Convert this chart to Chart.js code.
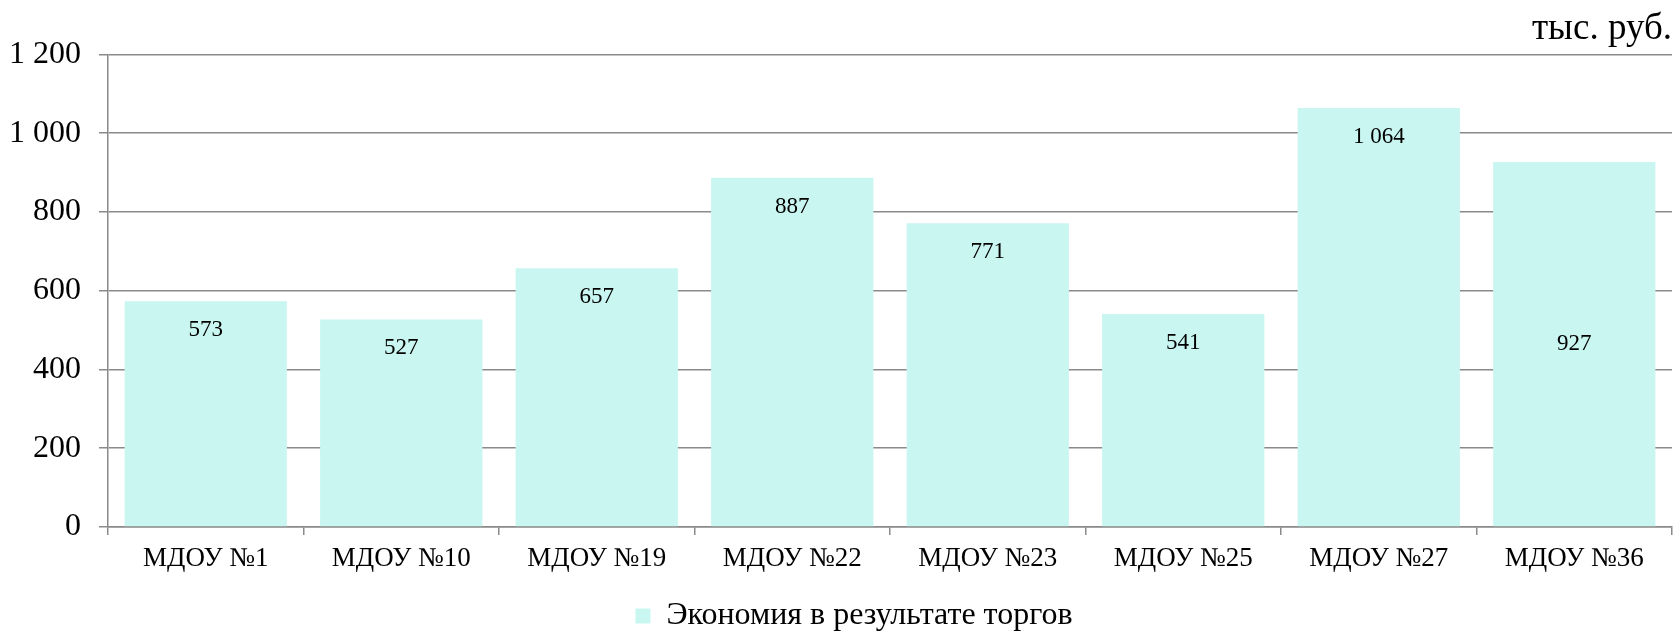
<!DOCTYPE html>
<html lang="ru">
<head>
<meta charset="utf-8">
<title>Экономия в результате торгов</title>
<script src="https://cdn.jsdelivr.net/npm/chart.js@4/dist/chart.umd.min.js"></script>
<style>
  html, body { margin: 0; padding: 0; background: #fff; }
  #wrap { width: 1673px; height: 635px; }
</style>
</head>
<body>
<div id="wrap"><canvas id="savingsChart"></canvas></div>
<script>
// учреждения и сумма экономии по каждому, тыс. руб.
const categories = ['МДОУ №1', 'МДОУ №10', 'МДОУ №19', 'МДОУ №22', 'МДОУ №23', 'МДОУ №25', 'МДОУ №27', 'МДОУ №36'];
const savings = [573, 527, 657, 887, 771, 541, 1064, 927];
const yTicks = [0, 200, 400, 600, 800, 1000, 1200];
// где ставить подпись на столбце: у верха или посередине
const labelAnchor = ['end', 'end', 'end', 'end', 'end', 'end', 'end', 'center'];

const FONT = '"Liberation Serif", "Times New Roman", serif';
const BAR_COLOR = '#c9f6f1';
const GRID_COLOR = '#8a8a8a';

// 1064 -> "1 064"
function fmt(v){
    return String(v).replace(/\B(?=(\d{3})+(?!\d))/g, ' ');
}

// подписи значений на столбцах
const barLabels = {
    id: 'barLabels',
    afterDatasetsDraw(chart){
        const ctx = chart.ctx;
        const meta = chart.getDatasetMeta(0);
        ctx.save();
        ctx.font = '23px ' + FONT;
        ctx.fillStyle = '#000';
        ctx.textAlign = 'center';
        ctx.textBaseline = 'middle';
        meta.data.forEach((bar, i) => {
            const y = labelAnchor[i] === 'center' ? (bar.y + bar.base) / 2 : bar.y + 29;
            ctx.fillText(fmt(savings[i]), bar.x, y);
        });
        ctx.restore();
    }
};

// легенду чуть правее центра холста
const legendShift = {
    id: 'legendShift',
    afterLayout(chart){
        if (chart.legend) {
            chart.legend.left += 18;
            chart.legend.right += 18;
        }
    }
};

const ctx = document.getElementById('savingsChart').getContext('2d');
new Chart(ctx, {
    type: 'bar',
    data: {
        labels: categories,
        datasets: [{
            label: 'Экономия в результате торгов',
            data: savings,
            backgroundColor: BAR_COLOR,
            borderWidth: 0,
            categoryPercentage: 1,
            barPercentage: 0.83
        }]
    },
    options: {
        responsive: true,
        maintainAspectRatio: false,
        animation: false,
        // легенда у самого нижнего края, поэтому снизу отрицательный отступ
        layout: { padding: { left: 0, right: 1, bottom: -7 } },
        scales: {
            x: {
                grid: { display: true, drawOnChartArea: false, drawTicks: true, tickLength: 8, color: GRID_COLOR, lineWidth: 1.5 },
                border: { display: true, color: GRID_COLOR, width: 1.5 },
                ticks: { color: '#000', font: { family: FONT, size: 27 }, padding: 8 },
                // место под подписями до легенды
                afterFit(scale){ scale.height = 68; }
            },
            y: {
                min: 0,
                max: 1200,
                afterBuildTicks(scale){
                    scale.ticks = yTicks.map(v => ({ value: v }));
                },
                afterFit(scale){ scale.width = 108; },
                grid: { color: GRID_COLOR, lineWidth: 1.5, tickLength: 9 },
                border: { display: true, color: GRID_COLOR, width: 1.5 },
                ticks: {
                    color: '#000',
                    font: { family: FONT, size: 32 },
                    padding: 18,
                    callback: v => fmt(v)
                }
            }
        },
        plugins: {
            title: {
                display: true,
                text: 'тыс. руб.',
                align: 'end',
                color: '#000',
                font: { family: FONT, size: 37, weight: 'normal' },
                padding: { top: 7, bottom: 3 }
            },
            legend: {
                position: 'bottom',
                labels: {
                    color: '#000',
                    font: { family: FONT, size: 32 },
                    boxWidth: 15,
                    boxHeight: 15,
                    padding: 5
                }
            },
            tooltip: { enabled: false }
        }
    },
    plugins: [barLabels, legendShift]
});
</script>
</body>
</html>
